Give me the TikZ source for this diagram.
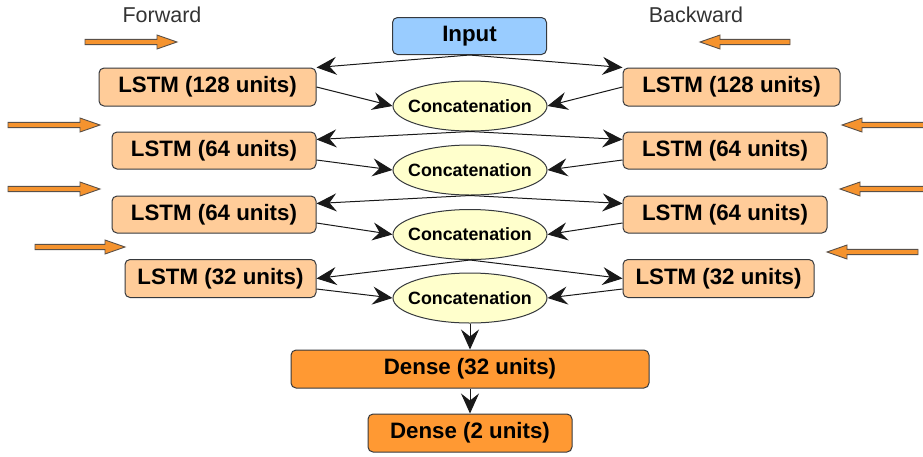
\documentclass[tikz,border=0pt]{standalone}
\usepackage{fontspec}
\setmainfont{Liberation Sans}
\usetikzlibrary{arrows.meta,shapes.geometric}
\definecolor{lstmfill}{HTML}{FFCC99}
\definecolor{inputfill}{HTML}{99CCFF}
\definecolor{catfill}{HTML}{FFFFCC}
\definecolor{densefill}{HTML}{FF9933}
\definecolor{edgegrey}{HTML}{36393D}
\definecolor{labelgrey}{HTML}{333333}
\definecolor{oarrowfill}{HTML}{F5932E}
\definecolor{oarrowline}{HTML}{5A5048}
\tikzset{
  boxbase/.style={draw=edgegrey, line width=1pt, rounded corners=5pt, inner sep=0pt,
    font=\fontsize{22.3}{26}\selectfont\bfseries, text=black},
  lstmbox/.style={boxbase, fill=lstmfill},
  inputbox/.style={boxbase, fill=inputfill},
  densebox/.style={boxbase, fill=densefill},
  catnode/.style={ellipse, draw=edgegrey, line width=1pt, fill=catfill, inner xsep=-25pt, inner ysep=0pt,
    minimum width=154pt, minimum height=50pt, font=\fontsize{17.8}{21}\selectfont\bfseries},
  conn/.style={draw=black!90, line width=1pt, -{Stealth[length=20pt,width=18pt,inset=7pt]}},
  oarr/.style={draw=oarrowline, line width=0.9pt, fill=oarrowfill, line join=miter},
  dirlabel/.style={text=labelgrey, font=\fontsize{21.5}{25}\selectfont, inner sep=0pt}
}
\newcommand{\oarrowshape}[4]{%
  \begin{scope}[shift={(#1,#2)}, xscale=#4]
    \draw[oarr] (0,-2.6) -- (#3-20,-2.6) -- (#3-20,-7) -- (#3,0) -- (#3-20,7) -- (#3-20,2.6) -- (0,2.6) -- cycle;
  \end{scope}}
\begin{document}
\begin{tikzpicture}[x=1pt,y=-1pt]
\useasboundingbox (0,0) rectangle (923,456);
% direction labels
\node[dirlabel] (fw) at (162,15) {Forward};
\node[dirlabel] (bw) at (696,15) {Backward};
% orange direction arrows
\oarrowshape{85}{42}{92}{1}
\oarrowshape{8}{125}{92}{1}
\oarrowshape{8}{189}{92}{1}
\oarrowshape{35}{247}{90}{1}
\oarrowshape{790}{42}{90}{-1}
\oarrowshape{925}{125}{83}{-1}
\oarrowshape{925}{189}{85}{-1}
\oarrowshape{918}{252}{91}{-1}
% nodes
\node[inputbox, minimum width=154pt, minimum height=37pt] (in) at (469.5,36) {Input};
\node[lstmbox, minimum width=217pt, minimum height=38pt] (L1) at (207.5,87) {LSTM (128 units)};
\node[lstmbox, minimum width=217pt, minimum height=38pt] (R1) at (731.5,87) {LSTM (128 units)};
\node[lstmbox, minimum width=204pt, minimum height=37pt] (L2) at (214,150.5) {LSTM (64 units)};
\node[lstmbox, minimum width=204pt, minimum height=37pt] (R2) at (725,150.5) {LSTM (64 units)};
\node[lstmbox, minimum width=204pt, minimum height=37pt] (L3) at (214,214.5) {LSTM (64 units)};
\node[lstmbox, minimum width=204pt, minimum height=37pt] (R3) at (725,214.5) {LSTM (64 units)};
\node[lstmbox, minimum width=191pt, minimum height=38pt] (L4) at (220.5,278.5) {LSTM (32 units)};
\node[lstmbox, minimum width=191pt, minimum height=38pt] (R4) at (718.5,278.5) {LSTM (32 units)};
\node[catnode] (C1) at (470,106) {Concatenation};
\node[catnode] (C2) at (470,170) {Concatenation};
\node[catnode] (C3) at (470,234.5) {Concatenation};
\node[catnode] (C4) at (470,298) {Concatenation};
\node[densebox, minimum width=358pt, minimum height=38pt] (D32) at (470,369) {Dense (32 units)};
\node[densebox, minimum width=204pt, minimum height=38pt] (D2) at (470,433) {Dense (2 units)};
% connectors
\draw[conn] (in.south) -- (L1.north east);
\draw[conn] (in.south) -- (R1.north west);
\draw[conn] (L1.east) -- (C1.west);
\draw[conn] (R1.west) -- (C1.east);
\draw[conn] (C1.south) -- ([yshift=-8pt]L2.north east);
\draw[conn] (C1.south) -- ([yshift=-8pt]R2.north west);
\draw[conn] ([yshift=-9.5pt]L2.east) -- (C2.west);
\draw[conn] ([yshift=-9.5pt]R2.west) -- (C2.east);
\draw[conn] (C2.south) -- ([yshift=-8pt]L3.north east);
\draw[conn] (C2.south) -- ([yshift=-8pt]R3.north west);
\draw[conn] ([yshift=-8.5pt]L3.east) -- (C3.west);
\draw[conn] ([yshift=-8.5pt]R3.west) -- (C3.east);
\draw[conn] (C3.south) -- (L4.east);
\draw[conn] (C3.south) -- (R4.west);
\draw[conn] ([yshift=-10.5pt]L4.east) -- (C4.west);
\draw[conn] ([yshift=-10.5pt]R4.west) -- (C4.east);
\draw[conn] (C4.south) -- (D32.north);
\draw[conn] (D32.south) -- (D2.north);
\end{tikzpicture}
\end{document}
